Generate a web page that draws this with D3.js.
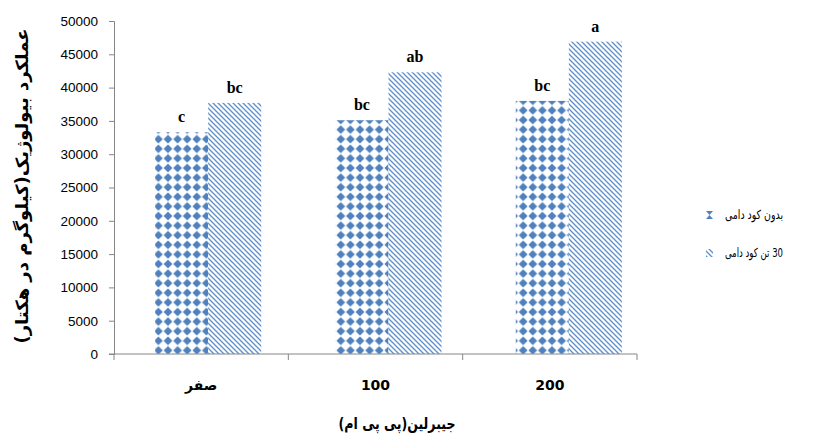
<!DOCTYPE html>
<html><head><meta charset="utf-8">
<script src="https://cdn.jsdelivr.net/npm/d3@7"></script>
<style>body{margin:0;background:#fff}</style>
</head><body>
<svg id="c" width="837" height="438"></svg>
<script>
const categories = ["صفر", "100", "200"];
const seriesNames = ["بدون کود دامی", "30 تن کود دامی"];
const withoutManure = [33300, 35100, 38000];
const withManure = [37700, 42300, 46900];
const letters0 = ["c", "bc", "bc"];
const letters1 = ["bc", "ab", "a"];
const yTicks = [0,5000,10000,15000,20000,25000,30000,35000,40000,45000,50000];
const yTitle = "عملکرد بیولوژیک(کیلوگرم در هکتار)";
const xTitle = "جیبرلین(پی پی ام)";

const svg = d3.select("#c");
const blue = "#4f81bd";
const defs = svg.append("defs");
const pd = defs.append("pattern").attr("id","dia").attr("patternUnits","userSpaceOnUse")
  .attr("width",9.6).attr("height",9.6);
pd.append("rect").attr("width",9.6).attr("height",9.6).attr("fill","#fff");
pd.append("path").attr("d","M4.8,0.4L9.2,4.8L4.8,9.2L0.4,4.8Z").attr("fill",blue);
const ph = defs.append("pattern").attr("id","hat").attr("patternUnits","userSpaceOnUse")
  .attr("width",5).attr("height",5);
ph.append("rect").attr("width",5).attr("height",5).attr("fill","#fff");
ph.append("path").attr("d","M-1,-1L6,6M-1,4L1,6M4,-1L6,1").attr("stroke","#5f8fcb").attr("stroke-width",1.3);

const y = d3.scaleLinear().domain([0,50000]).range([354,21]);
// category axis (labels/ticks)
const x0 = d3.scaleBand().domain(categories).range([114,637]).paddingInner(0).paddingOuter(0);
// bar placement band (bars sit slightly right of label centres in the reference)
const xb = d3.scaleBand().domain(categories).range([118,659]).paddingInner(0).paddingOuter(0);
const x1 = d3.scaleBand().domain([0,1]).range([0,xb.bandwidth()]).paddingInner(0).paddingOuter(0.7);

const data = categories.map((c,i)=>({c, v:[withoutManure[i], withManure[i]], l:[letters0[i], letters1[i]]}));
const g = svg.append("g");
data.forEach(d=>{
  [0,1].forEach(s=>{
    const xx = xb(d.c)+x1(s);
    g.append("rect").attr("x",xx).attr("y",y(d.v[s])).attr("width",x1.bandwidth())
      .attr("height",y(0)-y(d.v[s])).attr("fill", s===0?"url(#dia)":"url(#hat)");
    g.append("text").attr("x",xx+x1.bandwidth()/2).attr("y",y(d.v[s])-10)
      .attr("text-anchor","middle").attr("font-family","Liberation Serif").attr("font-weight","bold")
      .attr("font-size",16).attr("fill","#000").text(d.l[s]);
  });
});

// y axis
const ya = svg.append("g").attr("transform","translate(114,0)")
  .call(d3.axisLeft(y).tickValues(yTicks).tickSize(5).tickPadding(11).tickFormat(d3.format("d")));
ya.select(".domain").attr("stroke","#868686");
ya.selectAll(".tick line").attr("stroke","#868686");
ya.selectAll(".tick text").attr("font-family","Liberation Sans").attr("font-size",13.5).attr("fill","#000");

// x axis
svg.append("line").attr("x1",109).attr("x2",637).attr("y1",y(0)).attr("y2",y(0)).attr("stroke","#868686");
const bounds = categories.map(c=>x0(c)).concat([x0.range()[1]]);
svg.selectAll(".xt").data(bounds).enter().append("line")
  .attr("x1",d=>d).attr("x2",d=>d).attr("y1",y(0)).attr("y2",y(0)+6).attr("stroke","#868686");
svg.selectAll(".xl").data(categories).enter().append("text")
  .attr("x",d=>x0(d)+x0.bandwidth()/2).attr("y",390).attr("text-anchor","middle")
  .attr("font-family","DejaVu Sans").attr("font-weight","bold").attr("font-size",14).text(d=>d);

// titles
svg.append("text").attr("transform","translate(28,186) rotate(-90)").attr("text-anchor","middle")
  .attr("direction","rtl").attr("font-family","DejaVu Sans").attr("font-weight","bold").attr("font-size",17)
  .attr("textLength",315).attr("lengthAdjust","spacingAndGlyphs").text(yTitle);
svg.append("text").attr("x",397).attr("y",429).attr("text-anchor","middle")
  .attr("direction","rtl").attr("font-family","DejaVu Sans").attr("font-weight","bold").attr("font-size",16)
  .attr("textLength",117).attr("lengthAdjust","spacingAndGlyphs").text(xTitle);

// legend
const leg = svg.append("g");
seriesNames.forEach((n,i)=>{
  const yy = 215 + i*38;
  if(i===0){
    leg.append("path").attr("d",`M706,${yy-4}h7l-3.5,4l3.5,4h-7l3.5,-4z`).attr("fill",blue);
  } else {
    leg.append("rect").attr("x",706).attr("y",yy-4).attr("width",7).attr("height",8).attr("fill","url(#hat)");
  }
  leg.append("text").attr("x",783).attr("y",yy+4).attr("direction","rtl").attr("text-anchor","start")
    .attr("font-family","DejaVu Sans").attr("font-size",12.5).attr("fill","#000")
    .attr("textLength",58).attr("lengthAdjust","spacingAndGlyphs").text(n);
});
</script>
</body></html>
